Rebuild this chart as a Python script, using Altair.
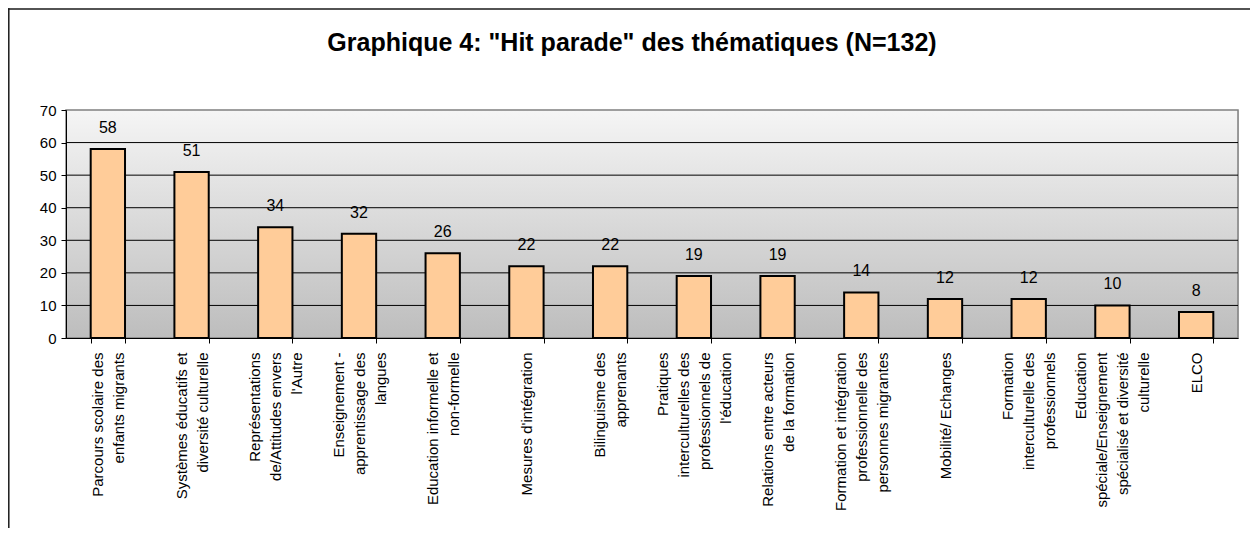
import altair as alt
import pandas as pd

# ---- data ----
themes = [
    "Parcours scolaire des|enfants migrants",
    "Systèmes éducatifs et|diversité culturelle",
    "Représentations|de/Attitudes envers|l'Autre",
    "Enseignement -|apprentissage des|langues",
    "Education informelle et|non-formelle",
    "Mesures d'intégration",
    "Bilinguisme des|apprenants",
    "Pratiques|interculturelles des|professionnels de|l'éducation",
    "Relations entre acteurs|de la formation",
    "Formation et intégration|professionnelle des|personnes migrantes",
    "Mobilité/ Echanges",
    "Formation|interculturelle des|professionnels",
    "Education|spéciale/Enseignement|spécialisé et diversité|culturelle",
    "ELCO",
]
counts = [58, 51, 34, 32, 26, 22, 22, 19, 19, 14, 12, 12, 10, 8]
y_ticks = [0, 10, 20, 30, 40, 50, 60, 70]
grid_values = [10, 20, 30, 40, 50, 60]
title_text = 'Graphique 4: "Hit parade" des thématiques (N=132)'

FONT = "Liberation Sans"
W, H = 1172, 228
LH = 21

df = pd.DataFrame({"theme": themes, "count": counts})
grid_df = pd.DataFrame({"v": grid_values})

x_scale = alt.Scale(paddingInner=0.59, paddingOuter=0.295)
x_axis = alt.Axis(
    labelAngle=-90,
    labelExpr="split(datum.label, '|')",
    labelFont=FONT,
    labelFontSize=15,
    labelLineHeight=LH,
    labelColor="black",
    labelPadding=9,
    labelLimit=400,
    labelOffset={
        "condition": {"test": "false", "value": 0},
        "expr": f"-(length(split(datum.value, '|')) - 1) * {LH / 2}",
    },
    tickBand="extent",
    tickSize=5,
    tickColor="black",
    domainColor="black",
    domainWidth=1,
    grid=False,
    zindex=1,
)
y_scale = alt.Scale(domain=[0, 70], nice=False)
y_axis = alt.Axis(
    values=y_ticks,
    grid=False,
    labelFont=FONT,
    labelFontSize=15,
    labelColor="black",
    labelPadding=5,
    tickSize=5,
    tickColor="black",
    domainColor="black",
    domainWidth=1,
    zindex=1,
)

one_row = alt.Data(values=[{"t": title_text}])

frame_top = alt.Chart(one_row).mark_rule(color="#1a1a1a", strokeWidth=1.5).encode(
    x=alt.value(-58), x2=alt.value(W + 200), y=alt.value(-101)
)
frame_left = alt.Chart(one_row).mark_rule(color="#1a1a1a", strokeWidth=1.5).encode(
    x=alt.value(-57.2), y=alt.value(-101.7), y2=alt.value(H + 400)
)

title = alt.Chart(one_row).mark_text(
    font=FONT, fontSize=25, fontWeight="bold", color="black",
    align="center", baseline="alphabetic",
).encode(x=alt.value(W / 2 - 20), y=alt.value(-59), text="t:N")

background = alt.Chart(one_row).mark_rect(
    color=alt.LinearGradient(
        gradient="linear",
        stops=[
            alt.GradientStop(color="#f5f5f5", offset=0),
            alt.GradientStop(color="#bdbdbd", offset=1),
        ],
        x1=0, x2=0, y1=0, y2=1,
    ),
    stroke="#808080",
    strokeWidth=1.5,
).encode(x=alt.value(0), x2=alt.value(W), y=alt.value(0), y2=alt.value(H))

grid = alt.Chart(grid_df).mark_rule(color="black", strokeWidth=1).encode(
    y=alt.Y("v:Q", scale=y_scale, axis=y_axis, title=None)
)

bars = alt.Chart(df).mark_bar(
    fill="#FFCC99", stroke="black", strokeWidth=2
).encode(
    x=alt.X("theme:N", sort=None, title=None, scale=x_scale, axis=x_axis),
    y=alt.Y("count:Q", title=None, scale=y_scale, axis=y_axis),
)

labels = alt.Chart(df).mark_text(
    font=FONT, fontSize=16, color="black", baseline="alphabetic", dy=-16
).encode(
    x=alt.X("theme:N", sort=None, title=None, scale=x_scale, axis=x_axis),
    y=alt.Y("count:Q", title=None, scale=y_scale, axis=y_axis),
    text=alt.Text("count:Q"),
)

chart = (
    alt.layer(frame_top, frame_left, title, background, grid, bars, labels)
    .properties(
        width=W,
        height=H,
        autosize=alt.AutoSizeParams(type="none"),
        padding={"left": 58, "top": 102, "right": 12, "bottom": 190},
    )
    .configure_view(stroke=None)
    .configure(background="white")
)

chart.save("out.html", embed_options={"renderer": "svg", "actions": False})
